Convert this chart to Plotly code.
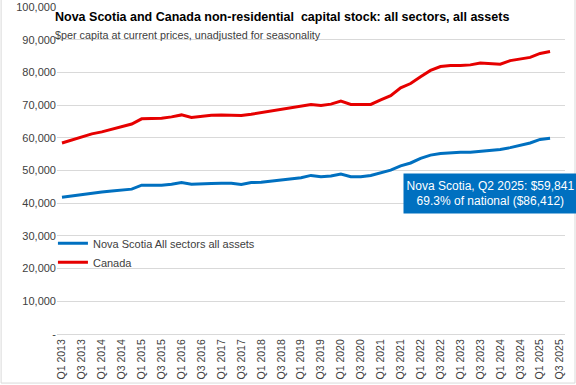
import plotly.graph_objects as go

quarters = [f"Q{q} {y}" for y in range(2013, 2026) for q in (1, 2, 3, 4)][:51]

canada = [58400, 59300, 60300, 61200, 61800, 62600, 63500, 64200, 65800, 65800,
          66000, 66400, 67000, 66200, 66600, 66900, 67000, 66800, 66800, 67200,
          67700, 68000, 68600, 69200, 69600, 70200, 69900, 70300, 71200, 70200,
          70200, 70200, 71600, 72900, 75300, 76600, 78700, 80600, 81800, 82100,
          82100, 82300, 82900, 82800, 82500, 83600, 84000, 84600, 85800, 86412]

nova_scotia = [41800, 42200, 42800, 43100, 43400, 43700, 44000, 44300, 45500, 45500,
               45500, 45800, 46300, 45800, 45800, 46000, 46100, 46100, 45700, 46300,
               46400, 46800, 47100, 47400, 47800, 48500, 48100, 48300, 48900, 48100,
               48100, 48500, 49400, 50100, 51400, 52300, 53700, 54700, 55200, 55500,
               55600, 55600, 55900, 56000, 56400, 57000, 57600, 58400, 59500, 59841]

y_tick_vals = [0, 10000, 20000, 30000, 40000, 50000, 60000, 70000, 80000, 90000, 100000]
y_tick_text = ["-", "10,000", "20,000", "30,000", "40,000", "50,000", "60,000",
               "70,000", "80,000", "90,000", "100,000"]

x_tick_idx = list(range(0, len(quarters), 2))
x_tick_text = [quarters[i] for i in x_tick_idx]

FONT = "Liberation Sans, Arial, sans-serif"

fig = go.Figure()
fig.add_trace(go.Scatter(x=list(range(len(nova_scotia))), y=nova_scotia, mode="lines",
                         name="Nova Scotia All sectors all assets",
                         line=dict(color="#0070C0", width=3)))
fig.add_trace(go.Scatter(x=list(range(len(canada))), y=canada, mode="lines",
                         name="Canada", line=dict(color="#E60000", width=3)))

fig.update_layout(
    width=576, height=385,
    margin=dict(l=57, r=11, t=7, b=51, autoexpand=False),
    paper_bgcolor="white", plot_bgcolor="white",
    font=dict(family=FONT, size=11, color="#404040"),
    showlegend=True,
    legend=dict(x=-0.008, y=0.322, xanchor="left", yanchor="top",
                bgcolor="rgba(255,255,255,0)", font=dict(size=11, color="#404040"),
                tracegroupgap=0, itemwidth=30),
    xaxis=dict(range=[-0.5, 50.5], tickmode="array", tickvals=x_tick_idx,
               ticktext=x_tick_text, tickangle=-90, showgrid=False, automargin=False,
               showline=True, linecolor="#D9D9D9", linewidth=1, ticks="",
               zeroline=False, tickfont=dict(size=10.5, color="#404040")),
    yaxis=dict(range=[0, 100000], tickmode="array", tickvals=y_tick_vals, automargin=False,
               ticktext=y_tick_text, showgrid=True, gridcolor="#D9D9D9",
               gridwidth=1, zeroline=False, showline=False, ticks="",
               tickfont=dict(size=11, color="#404040")),
    annotations=[
        dict(text="<b>Nova Scotia and Canada non-residential  capital stock: all sectors, all assets</b>",
             xref="paper", yref="paper", x=-0.008, y=0.969, xanchor="left", yanchor="middle",
             showarrow=False, font=dict(family=FONT, size=12.5, color="#000000")),
        dict(text="$per capita at current prices, unadjusted for seasonality",
             xref="paper", yref="paper", x=-0.008, y=0.914, xanchor="left", yanchor="middle",
             showarrow=False, font=dict(family=FONT, size=10.8, color="#404040")),
        dict(text="Nova Scotia, Q2 2025: $59,841<br>69.3% of national ($86,412)",
             xref="paper", yref="paper", x=0.681, y=0.43, xanchor="left", yanchor="middle",
             showarrow=False, align="center", bgcolor="#0070C0", borderpad=2,
             width=169, height=35, font=dict(family=FONT, size=12, color="#FFFFFF")),
    ],
    shapes=[dict(type="rect", xref="paper", yref="paper", x0=-0.110, x1=1.0197, y0=-0.150, y1=1.03,
                 line=dict(color="#D9D9D9", width=1), fillcolor="rgba(0,0,0,0)", layer="below")],
)

fig.write_html("out.html", config={"displayModeBar": False},
               post_script="document.body.style.margin='0';")
